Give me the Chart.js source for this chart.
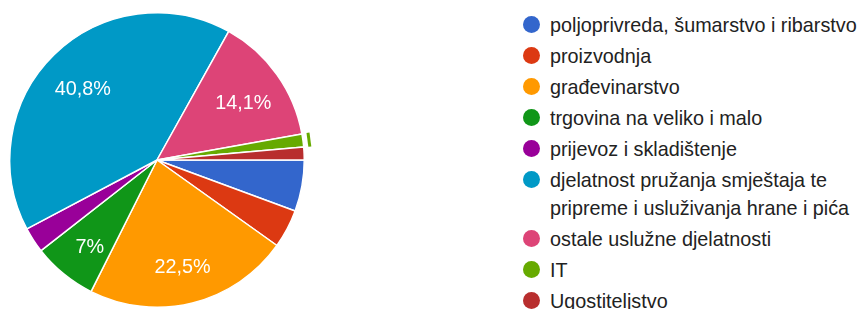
<!DOCTYPE html>
<html>
<head>
<meta charset="utf-8">
<script src="https://cdn.jsdelivr.net/npm/chart.js@4.4.0/dist/chart.umd.min.js"></script>
<style>
  html, body { margin: 0; padding: 0; background: #fff; }
  body { width: 859px; height: 309px; position: relative; overflow: hidden; font-family: "Liberation Sans", Arial, sans-serif; }
  #wrap { position: absolute; left: 0; top: 0; width: 320px; height: 309px; }
  #legend { position: absolute; left: 523px; top: 11px; margin: 0; padding: 0; list-style: none; }
  #legend li { position: relative; padding-left: 27px; margin-bottom: 3px; font-size: 19.8px; line-height: 28px; color: #222; white-space: nowrap; }
  #legend li span { position: absolute; left: 0; top: 5px; width: 17px; height: 17px; border-radius: 50%; }
</style>
</head>
<body>
<div id="wrap"><canvas id="pie"></canvas></div>
<ul id="legend"></ul>
<script>
// odgovori (broj ispitanika po djelatnosti)
var categories = [
    "poljoprivreda, šumarstvo i ribarstvo",
    "proizvodnja",
    "građevinarstvo",
    "trgovina na veliko i malo",
    "prijevoz i skladištenje",
    "djelatnost pružanja smještaja te\npripreme i usluživanja hrane i pića",
    "ostale uslužne djelatnosti",
    "IT",
    "Ugostiteljstvo"
];
var counts = [4, 3, 16, 5, 2, 29, 10, 1, 1];
var colors = ["#3366cc", "#dc3912", "#ff9900", "#109618", "#990099", "#0099c6", "#dd4477", "#66aa00", "#b82e2e"];

var total = counts.reduce(function(a, b) { return a + b; }, 0);

function pct(v) {
    var p = Math.round(v / total * 1000) / 10;
    return String(p).replace(".", ",") + "%";
}

// legend
var ul = document.getElementById("legend");
categories.forEach(function(c, i) {
    var li = document.createElement("li");
    var dot = document.createElement("span");
    dot.style.background = colors[i];
    li.appendChild(dot);
    c.split("\n").forEach(function(line, k) {
        if (k > 0) li.appendChild(document.createElement("br"));
        li.appendChild(document.createTextNode(line));
    });
    ul.appendChild(li);
});

// percentage labels inside slices (only for big enough slices)
var sliceLabels = {
    id: "sliceLabels",
    afterDatasetsDraw: function(chart) {
        var ctx = chart.ctx;
        var meta = chart.getDatasetMeta(0);
        ctx.save();
        ctx.font = "19.8px 'Liberation Sans', Arial, sans-serif";
        ctx.fillStyle = "#fff";
        ctx.textAlign = "center";
        ctx.textBaseline = "middle";
        meta.data.forEach(function(arc, i) {
            var v = counts[i];
            var mid = (arc.startAngle + arc.endAngle) / 2;
            if (v / total >= 0.065) {
                var r = arc.outerRadius * 0.72;
                ctx.fillText(pct(v), arc.x + Math.cos(mid) * r, arc.y + Math.sin(mid) * r + 5);
            }
        });
        // clipped outside label next to the IT slice
        var it = meta.data[7];
        var a = (it.startAngle + it.endAngle) / 2;
        var rr = it.outerRadius + 6;
        var cx = it.x + Math.cos(a) * rr, cy = it.y + Math.sin(a) * rr;
        var tx = -Math.sin(a), ty = Math.cos(a);
        ctx.strokeStyle = colors[7];
        ctx.lineWidth = 3;
        ctx.beginPath();
        ctx.moveTo(cx - tx * 7, cy - ty * 7);
        ctx.lineTo(cx + tx * 7, cy + ty * 7);
        ctx.stroke();
        ctx.restore();
    }
};

new Chart(document.getElementById("pie"), {
    type: "pie",
    data: {
        labels: categories,
        datasets: [{
            data: counts,
            backgroundColor: colors,
            borderColor: "#fff",
            borderWidth: 1.5
        }]
    },
    options: {
        responsive: true,
        maintainAspectRatio: false,
        animation: false,
        rotation: 90,
        layout: { padding: { left: 9, right: 15, top: 12, bottom: 1 } },
        plugins: {
            legend: { display: false },
            tooltip: { enabled: false }
        }
    },
    plugins: [sliceLabels]
});
</script>
</body>
</html>
